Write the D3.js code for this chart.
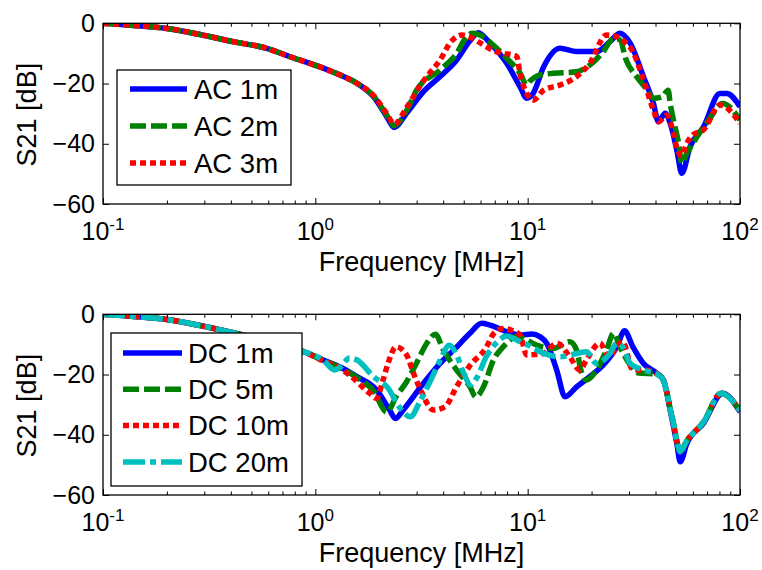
<!DOCTYPE html>
<html>
<head>
<meta charset="utf-8">
<script src="https://cdn.jsdelivr.net/npm/d3@7"></script>
<style>
  body { margin: 0; background: #fff; }
  svg { display: block; }
  text { font-family: "Liberation Sans", Arial, Helvetica, sans-serif; fill: #000; }
</style>
</head>
<body>
<svg id="fig" width="762" height="570"></svg>
<script>
// ---- axis ticks ----
const freqTicks = [0.1, 1, 10, 100];
const freqExponents = ["-1", "0", "1", "2"];
const dbTicks = [0, -20, -40, -60];

// ---- legend labels ----
const acLabels = ["AC 1m", "AC 2m", "AC 3m"];
const dcLabels = ["DC 1m", "DC 5m", "DC 10m", "DC 20m"];

// ---- S21 [dB] versus frequency [MHz], AC cables ----
const ac1m = [[0.1,0],[0.14,-0.7],[0.2,-1.7],[0.29,-3.8],[0.41,-6.1],[0.59,-8.3],[0.76,-11.1],[1.09,-14.9],[1.31,-17.2],[1.57,-19.9],[1.88,-24.4],[2.17,-31.0],[2.35,-34.6],[2.69,-29.9],[3.23,-22.7],[3.87,-17.7],[4.63,-12.2],[5.35,-5.8],[5.85,-3.1],[6.65,-6.6],[7.97,-13.3],[9.21,-21.1],[9.9,-24.9],[10.6,-23.3],[11.9,-14.4],[14.2,-8.3],[17.0,-9.4],[21.1,-9.4],[24.4,-6.1],[27.2,-3.3],[30.4,-6.6],[35.1,-17.7],[39.1,-26.6],[41.3,-32.7],[44.4,-29.9],[46.9,-33.2],[50.4,-42.1],[53.2,-49.8],[58.2,-41.0],[67.3,-34.4],[80.5,-23.3],[86.7,-23.3],[100,-27.7]];
const ac2m = [[0.1,0],[0.14,-0.7],[0.2,-1.7],[0.29,-3.8],[0.41,-6.1],[0.59,-8.3],[0.76,-11.1],[1.09,-14.9],[1.31,-17.2],[1.57,-19.9],[1.88,-24.2],[2.17,-30.5],[2.35,-34.0],[2.69,-29.0],[3.0,-22.2],[3.87,-15.5],[4.63,-10.0],[5.15,-4.5],[5.5,-3.3],[6.0,-4.0],[6.65,-6.3],[7.97,-11.6],[9.21,-16.6],[9.9,-20.5],[10.2,-19.4],[11.4,-17.2],[13.2,-16.6],[17.0,-16.1],[19.6,-13.9],[22.7,-9.4],[25.4,-5.0],[27.2,-5.5],[29.1,-12.2],[32.6,-17.7],[36.6,-22.2],[39.1,-24.9],[43.0,-24.4],[45.9,-22.2],[46.9,-26.6],[48.6,-32.1],[51.4,-39.9],[53.2,-46.5],[56.2,-43.2],[62.7,-37.7],[71.3,-32.1],[82.9,-26.6],[100,-32.1]];
const ac3m = [[0.1,0],[0.14,-0.7],[0.2,-1.7],[0.29,-3.8],[0.41,-6.1],[0.59,-8.3],[0.76,-11.1],[1.09,-14.9],[1.31,-17.2],[1.57,-19.9],[1.88,-24.0],[2.17,-30.0],[2.35,-33.5],[2.69,-28.0],[3.13,-20.5],[3.6,-15.0],[3.87,-12.2],[4.3,-6.6],[4.9,-3.9],[5.5,-5.0],[6.2,-7.2],[7.1,-9.4],[7.7,-10.0],[8.5,-10.5],[8.9,-11.1],[9.2,-16.6],[9.9,-23.3],[10.6,-25.5],[11.9,-22.2],[14.2,-20.5],[17.0,-17.7],[19.6,-13.3],[23.5,-3.9],[26.3,-4.5],[28.6,-6.1],[31.3,-9.4],[35.1,-18.8],[39.1,-28.8],[41.3,-32.7],[45.1,-30.5],[48.6,-36.5],[50.4,-41.5],[53.2,-44.0],[56.0,-40.0],[60.0,-37.0],[67.3,-35.4],[80.5,-27.1],[100,-33.2]];

// ---- S21 [dB] versus frequency [MHz], DC cables ----
const dc1m = [[0.1,0],[0.14,-0.7],[0.2,-1.7],[0.29,-3.8],[0.41,-6.1],[0.59,-8.8],[0.88,-12.4],[1.09,-15.2],[1.31,-17.5],[1.57,-20.7],[1.94,-25.1],[2.24,-31.8],[2.38,-34.6],[2.59,-31.8],[3.23,-22.9],[3.87,-16.3],[4.48,-11.9],[5.35,-6.3],[6.07,-3.0],[6.65,-3.6],[7.97,-5.8],[9.21,-6.9],[10.5,-6.5],[11.4,-7.4],[12.3,-9.6],[13.7,-18.5],[15.0,-27.4],[17.0,-24.1],[19.6,-20.7],[22.7,-16.8],[26.3,-10.8],[28.6,-5.5],[31.3,-10.8],[35.1,-16.3],[40.6,-19.6],[43.6,-21.8],[46.9,-31.8],[50.4,-42.9],[52.3,-49.0],[56.2,-42.9],[67.3,-36.2],[82.9,-26.2],[100,-32.4]];
const dc5m = [[0.1,0],[0.14,-0.7],[0.2,-1.7],[0.29,-3.8],[0.41,-6.1],[0.59,-8.8],[0.88,-12.4],[1.09,-15.2],[1.31,-17.8],[1.57,-21.0],[1.88,-25.5],[2.17,-32.5],[2.4,-27.4],[2.69,-22.4],[2.99,-16.3],[3.35,-9.6],[3.67,-6.6],[4.02,-12.0],[4.63,-18.5],[5.35,-24.1],[5.7,-27.4],[6.19,-24.1],[6.9,-15.2],[7.67,-10.8],[8.9,-7.4],[9.5,-8.0],[11.0,-10.2],[13.2,-11.3],[15.8,-9.1],[17.0,-11.9],[17.9,-19.1],[18.9,-21.8],[21.1,-18.5],[23.5,-11.9],[25.4,-6.3],[27.2,-10.8],[30.4,-16.8],[33.3,-19.5],[40.6,-19.8],[43.6,-22.0],[45.1,-25.5],[46.9,-31.5],[48.6,-36.2],[50.4,-42.0],[52.3,-45.6],[56.2,-42.0],[67.3,-35.8],[81.5,-26.2],[100,-32.0]];
const dc10m = [[0.1,0],[0.14,-0.7],[0.2,-1.7],[0.29,-3.8],[0.41,-6.1],[0.59,-8.8],[0.88,-12.4],[1.09,-15.5],[1.31,-18.0],[1.45,-20.2],[1.8,-26.2],[1.94,-27.9],[2.08,-22.0],[2.2,-16.3],[2.4,-10.8],[2.69,-13.5],[2.9,-19.6],[3.13,-25.1],[3.6,-31.8],[4.08,-30.7],[4.63,-24.0],[5.35,-17.0],[6.38,-11.0],[6.9,-6.5],[7.67,-4.7],[8.5,-5.5],[9.21,-6.9],[9.9,-13.5],[11.9,-13.0],[13.7,-9.6],[15.8,-14.1],[17.6,-18.5],[18.9,-15.2],[21.9,-9.6],[24.1,-14.1],[26.3,-10.8],[28.0,-9.1],[31.3,-18.5],[35.1,-18.5],[40.6,-19.8],[43.6,-22.0],[45.1,-25.5],[46.9,-31.5],[48.6,-36.2],[50.4,-42.0],[52.3,-45.6],[56.2,-42.0],[67.3,-35.8],[81.5,-26.2],[100,-32.0]];
const dc20m = [[0.1,0],[0.14,-0.7],[0.2,-1.7],[0.29,-3.8],[0.41,-6.1],[0.59,-8.8],[0.88,-12.4],[1.09,-15.2],[1.23,-18.5],[1.31,-17.5],[1.45,-14.5],[1.57,-15.2],[1.88,-20.7],[2.2,-24.5],[2.5,-31.0],[2.8,-34.0],[3.13,-28.5],[3.5,-21.8],[3.87,-15.2],[4.28,-10.3],[4.63,-13.5],[5.0,-19.6],[5.4,-23.5],[5.8,-20.7],[6.38,-14.1],[7.1,-9.6],[7.97,-7.2],[9.21,-9.1],[9.9,-10.0],[11.9,-13.0],[14.2,-14.1],[17.0,-13.0],[18.9,-12.4],[21.1,-16.3],[24.4,-13.0],[26.3,-9.6],[28.0,-10.8],[30.4,-16.3],[35.1,-18.5],[40.6,-19.8],[43.6,-22.0],[45.1,-25.5],[46.9,-31.5],[48.6,-36.2],[50.4,-42.0],[52.3,-45.6],[56.2,-42.0],[67.3,-35.8],[81.5,-26.2],[100,-32.0]];

// ---- line styles ----
const styles = {
  solid:   { color: "#0000ff", dash: null },
  dashed:  { color: "#008000", dash: "16,5" },
  dotted:  { color: "#ff0000", dash: "6,4" },
  dashdot: { color: "#00bfbf", dash: "22,5,6,5" }
};

const svg = d3.select("#fig");
const LINE_W = 5.5;

function drawPanel(cfg) {
  const x = d3.scaleLog().domain([0.1, 100]).range([cfg.left, cfg.right]);
  const y = d3.scaleLinear().domain([-60, 0]).range([cfg.bottom, cfg.top]);
  const g = svg.append("g");

  // clip region for the traces
  svg.append("clipPath").attr("id", cfg.id + "-clip")
    .append("rect")
    .attr("x", cfg.left).attr("y", cfg.top)
    .attr("width", cfg.right - cfg.left).attr("height", cfg.bottom - cfg.top);

  const line = d3.line()
    .x(d => x(d[0]))
    .y(d => y(d[1]))
    .curve(d3.curveMonotoneX);

  const traces = g.append("g").attr("clip-path", `url(#${cfg.id}-clip)`);
  cfg.series.forEach(s => {
    traces.append("path")
      .datum(s.values)
      .attr("d", line)
      .attr("fill", "none")
      .attr("stroke", s.style.color)
      .attr("stroke-width", LINE_W)
      .attr("stroke-linejoin", "round")
      .attr("stroke-dasharray", s.style.dash);
  });

  // inward ticks on all four sides
  const minorTicks = [];
  for (let e = -1; e < 2; e++) for (let m = 2; m < 10; m++) minorTicks.push(m * Math.pow(10, e));

  const styleAxis = sel => {
    sel.select(".domain").remove();
    sel.selectAll(".tick line").attr("stroke", "#000").attr("stroke-width", 1);
  };

  g.append("g").attr("transform", `translate(0,${cfg.bottom})`)
    .call(d3.axisBottom(x).tickValues(freqTicks).tickSize(-6).tickFormat("")).call(styleAxis);
  g.append("g").attr("transform", `translate(0,${cfg.bottom})`)
    .call(d3.axisBottom(x).tickValues(minorTicks).tickSize(-3.5).tickFormat("")).call(styleAxis);
  g.append("g").attr("transform", `translate(0,${cfg.top})`)
    .call(d3.axisTop(x).tickValues(freqTicks).tickSize(-6).tickFormat("")).call(styleAxis);
  g.append("g").attr("transform", `translate(0,${cfg.top})`)
    .call(d3.axisTop(x).tickValues(minorTicks).tickSize(-3.5).tickFormat("")).call(styleAxis);
  g.append("g").attr("transform", `translate(${cfg.right},0)`)
    .call(d3.axisRight(y).tickValues(dbTicks).tickSize(-6).tickFormat("")).call(styleAxis);

  const yAxis = g.append("g").attr("transform", `translate(${cfg.left},0)`)
    .call(d3.axisLeft(y).tickValues(dbTicks).tickSize(-6).tickPadding(8).tickFormat(d3.format("d")))
    .call(styleAxis);
  yAxis.attr("font-family", null).attr("font-size", null);
  yAxis.selectAll(".tick text").attr("font-size", 25).attr("fill", "#000");

  // box
  g.append("rect")
    .attr("x", cfg.left).attr("y", cfg.top)
    .attr("width", cfg.right - cfg.left).attr("height", cfg.bottom - cfg.top)
    .attr("fill", "none").attr("stroke", "#000").attr("stroke-width", 1.3);

  // decade labels 10^n
  freqTicks.forEach((v, i) => {
    const t = g.append("text")
      .attr("x", x(v)).attr("y", cfg.bottom + 35.5)
      .attr("text-anchor", "middle")
      .attr("font-size", 25);
    t.append("tspan").text("10");
    t.append("tspan").attr("font-size", 17).attr("dy", -10).text(freqExponents[i]);
  });

  // axis titles
  g.append("text")
    .attr("x", (cfg.left + cfg.right) / 2).attr("y", cfg.bottom + 67)
    .attr("text-anchor", "middle").attr("font-size", 27)
    .text("Frequency [MHz]");
  g.append("text")
    .attr("transform", `translate(36,${(cfg.top + cfg.bottom) / 2 + 1}) rotate(-90)`)
    .attr("text-anchor", "middle").attr("font-size", 27)
    .text("S21 [dB]");

  // legend
  const L = cfg.legend;
  const lg = g.append("g");
  lg.append("rect")
    .attr("x", L.x).attr("y", L.y).attr("width", L.w).attr("height", L.h)
    .attr("fill", "#fff").attr("stroke", "#000").attr("stroke-width", 1.3);
  cfg.series.forEach((s, i) => {
    const ry = L.row0 + i * L.step;
    lg.append("line")
      .attr("x1", L.lx0).attr("x2", L.lx1).attr("y1", ry).attr("y2", ry)
      .attr("stroke", s.style.color).attr("stroke-width", LINE_W)
      .attr("stroke-dasharray", s.style.dash);
    lg.append("text")
      .attr("x", L.tx).attr("y", ry).attr("dy", "0.35em")
      .attr("font-size", 27.5)
      .text(s.label);
  });
}

drawPanel({
  id: "ac", left: 103, right: 740, top: 23.3, bottom: 204,
  series: [
    { label: acLabels[0], values: ac1m, style: styles.solid },
    { label: acLabels[1], values: ac2m, style: styles.dashed },
    { label: acLabels[2], values: ac3m, style: styles.dotted }
  ],
  legend: { x: 117, y: 70, w: 174, h: 115, row0: 89, step: 37, lx0: 130, lx1: 187, tx: 194 }
});

drawPanel({
  id: "dc", left: 103, right: 740, top: 314.3, bottom: 495,
  series: [
    { label: dcLabels[0], values: dc1m, style: styles.solid },
    { label: dcLabels[1], values: dc5m, style: styles.dashed },
    { label: dcLabels[2], values: dc10m, style: styles.dotted },
    { label: dcLabels[3], values: dc20m, style: styles.dashdot }
  ],
  legend: { x: 111, y: 333, w: 191, h: 153, row0: 353, step: 36.3, lx0: 123, lx1: 182, tx: 188 }
});
</script>
</body>
</html>
